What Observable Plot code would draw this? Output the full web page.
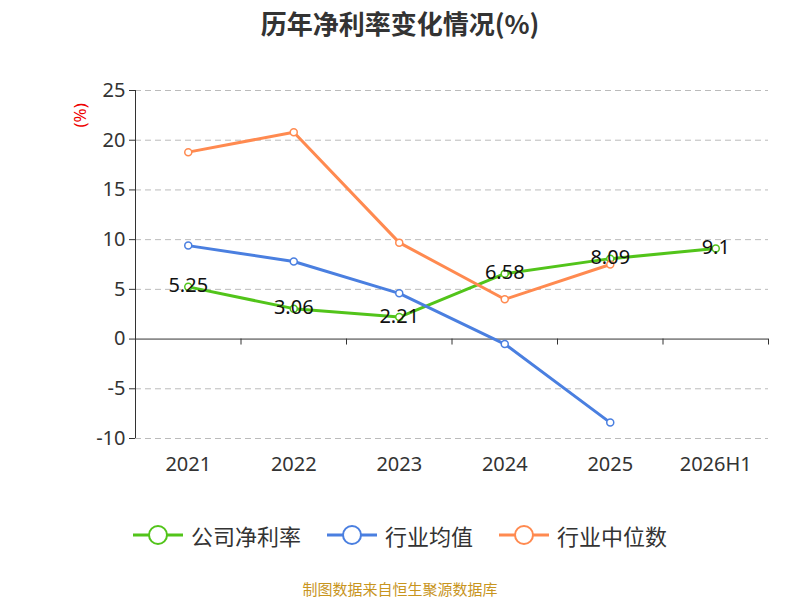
<!DOCTYPE html>
<html><head><meta charset="utf-8">
<script src="https://cdn.jsdelivr.net/npm/d3@7"></script>
<script src="https://cdn.jsdelivr.net/npm/@observablehq/plot@0.6"></script>
<style>
body{margin:0;background:#fff;font-family:"Noto Sans CJK SC","Noto Sans",sans-serif;}
#title{height:48px;line-height:46px;text-align:center;font-size:26px;font-weight:bold;color:#333;}
#legend{display:flex;justify-content:center;gap:26px;font-size:22px;color:#333;height:50px;align-items:center;margin-top:20px}
.li{display:flex;align-items:center;gap:8px}
#cap{text-align:center;font-size:15px;color:#c8951e;margin-top:18px}
</style></head><body>
<div id="title">历年净利率变化情况(%)</div>
<div id="chart"></div>
<div id="legend"></div>
<div id="cap">制图数据来自恒生聚源数据库</div>
<script>
const years=["2021","2022","2023","2024","2025","2026H1"];
const company=[5.25,3.06,2.21,6.58,8.09,9.1];
const industryAvg=[9.4,7.8,4.6,-0.5,-8.4];
const industryMed=[18.8,20.8,9.7,4.0,7.5];
const yTicks=[-10,-5,0,5,10,15,20,25];
const series=[
 {name:"公司净利率",color:"#52c41a",vals:company},
 {name:"行业均值",color:"#4a7fe0",vals:industryAvg},
 {name:"行业中位数",color:"#ff8a50",vals:industryMed}];
const rows=series.flatMap(s=>s.vals.map((v,i)=>({s:s.name,i,v,color:s.color})));
const bounds=d3.range(years.length+1).map(i=>i-0.5);
const marks=[
 Plot.ruleY(yTicks.filter(t=>t!==0),{stroke:"#bbb",strokeDasharray:"6,4"}),
 Plot.ruleX([-0.5],{y1:-10,y2:25,stroke:"#333"}),
 Plot.ruleY([0],{stroke:"#333"}),
 Plot.ruleX(bounds,{y1:0,y2:-0.6,stroke:"#333"}),
 ...series.map(s=>Plot.line(rows.filter(r=>r.s===s.name),{x:"i",y:"v",stroke:s.color,strokeWidth:3})),
 ...series.map(s=>Plot.dot(rows.filter(r=>r.s===s.name),{x:"i",y:"v",stroke:s.color,fill:"#fff",r:3.5,strokeWidth:1.5})),
 Plot.text(company.map((v,i)=>({i,v})),{x:"i",y:"v",text:d=>String(d.v),fontSize:20,fill:"#111",dy:-1}),
 Plot.text(["(%)"],{frameAnchor:"top-left",dx:-62,dy:37,rotate:-90,fill:"#e00",fontSize:17})
];
const chart=Plot.plot({width:800,height:442,marginLeft:135,marginRight:32,marginTop:42,marginBottom:52,
 style:{fontSize:"20px",fontFamily:"'Noto Sans','Noto Sans CJK SC',sans-serif",color:"#333",overflow:"visible"},
 x:{domain:[-0.5,5.5],ticks:d3.range(6),tickFormat:i=>years[i],tickSize:0,tickPadding:18,label:null},
 y:{domain:[-10,25],ticks:yTicks,tickFormat:d=>String(d),tickSize:6,tickPadding:4,label:null},
 marks});
document.getElementById("chart").appendChild(chart);
const lg=document.getElementById("legend");
series.forEach(s=>{lg.insertAdjacentHTML("beforeend",`<div class="li"><svg width="50" height="20"><line x1="0" x2="50" y1="10" y2="10" stroke="${s.color}" stroke-width="3"/><circle cx="25" cy="10" r="9" fill="#fff" stroke="${s.color}" stroke-width="2"/></svg><span>${s.name}</span></div>`)});
</script></body></html>
